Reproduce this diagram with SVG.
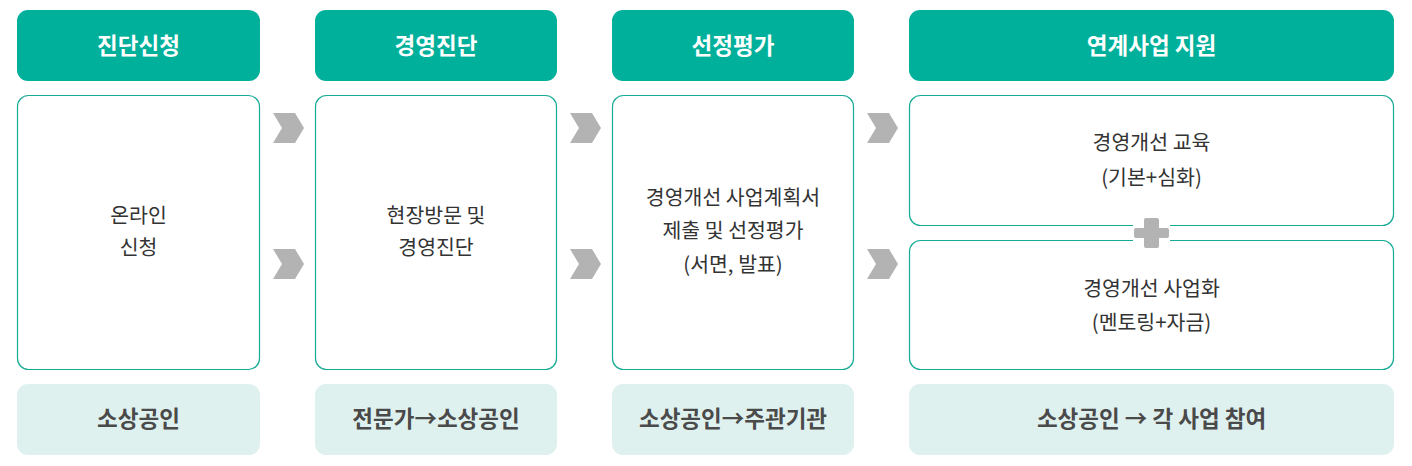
<svg xmlns="http://www.w3.org/2000/svg" width="1412" height="466" viewBox="0 0 1412 466">
<style>
.hd{fill:#00b09b}
.bd{fill:#fff;stroke:#17ab96;stroke-width:1.2}
.ft{fill:#dff1ef}
.ht{font-family:"Noto Sans CJK KR","Noto Sans",sans-serif;font-size:22.5px;font-weight:bold;fill:#fff;text-anchor:middle}
.bt{font-family:"Noto Sans CJK KR","Noto Sans",sans-serif;font-size:20.5px;fill:#333;text-anchor:middle}
.fx{font-family:"Noto Sans CJK KR","Noto Sans",sans-serif;font-size:22.5px;font-weight:bold;fill:#4a4a4a;text-anchor:middle}
.chev{fill:#b3b3b3}
</style>
<defs>
<polygon id="chv" points="0,0 22,0 31,15 22,30 0,30 9,15"/>
</defs>
<g id="col1">
<rect class="hd" x="17" y="10" width="243" height="71" rx="11"/>
<text class="ht" x="138.5" y="54">진단신청</text>
<rect class="bd" x="17.5" y="95.5" width="242" height="274" rx="11"/>
<text class="bt" x="138.5" y="223">온라인</text>
<text class="bt" x="138.5" y="255">신청</text>
<rect class="ft" x="17" y="384" width="243" height="71" rx="11"/>
<text class="fx" x="138.5" y="427">소상공인</text>
</g>
<g id="col2">
<rect class="hd" x="315" y="10" width="242" height="71" rx="11"/>
<text class="ht" x="436" y="54">경영진단</text>
<rect class="bd" x="315.5" y="95.5" width="241" height="274" rx="11"/>
<text class="bt" x="436" y="223">현장방문 및</text>
<text class="bt" x="436" y="255">경영진단</text>
<rect class="ft" x="315" y="384" width="242" height="71" rx="11"/>
<text class="fx" x="436" y="427">전문가→소상공인</text>
</g>
<g id="col3">
<rect class="hd" x="612" y="10" width="242" height="71" rx="11"/>
<text class="ht" x="733" y="54">선정평가</text>
<rect class="bd" x="612.5" y="95.5" width="241" height="274" rx="11"/>
<text class="bt" x="733" y="205">경영개선 사업계획서</text>
<text class="bt" x="733" y="238">제출 및 선정평가</text>
<text class="bt" x="733" y="272">(서면, 발표)</text>
<rect class="ft" x="612" y="384" width="242" height="71" rx="11"/>
<text class="fx" x="733" y="427">소상공인→주관기관</text>
</g>
<g id="col4">
<rect class="hd" x="909" y="10" width="485" height="71" rx="11"/>
<text class="ht" x="1151.5" y="54">연계사업 지원</text>
<rect class="bd" x="909.5" y="95.5" width="484" height="130" rx="11"/>
<text class="bt" x="1151.5" y="150">경영개선 교육</text>
<text class="bt" x="1151.5" y="185">(기본+심화)</text>
<rect class="bd" x="909.5" y="240.5" width="484" height="129" rx="11"/>
<text class="bt" x="1151.5" y="296">경영개선 사업화</text>
<text class="bt" x="1151.5" y="330">(멘토링+자금)</text>
<rect x="1133" y="222" width="37" height="22" fill="#fff"/>
<path class="chev" d="M1146,218 h11 a2,2 0 0 1 2,2 v8 h8 a2,2 0 0 1 2,2 v6 a2,2 0 0 1 -2,2 h-8 v8 a2,2 0 0 1 -2,2 h-11 a2,2 0 0 1 -2,-2 v-8 h-8 a2,2 0 0 1 -2,-2 v-6 a2,2 0 0 1 2,-2 h8 v-8 a2,2 0 0 1 2,-2 z"/>
<rect class="ft" x="909" y="384" width="485" height="71" rx="11"/>
<text class="fx" x="1151.5" y="427">소상공인 → 각 사업 참여</text>
</g>
<g id="connectors">
<use href="#chv" class="chev" x="273" y="113"/>
<use href="#chv" class="chev" x="273" y="249"/>
<use href="#chv" class="chev" x="570" y="113"/>
<use href="#chv" class="chev" x="570" y="249"/>
<use href="#chv" class="chev" x="867" y="113"/>
<use href="#chv" class="chev" x="867" y="249"/>
</g>
</svg>
